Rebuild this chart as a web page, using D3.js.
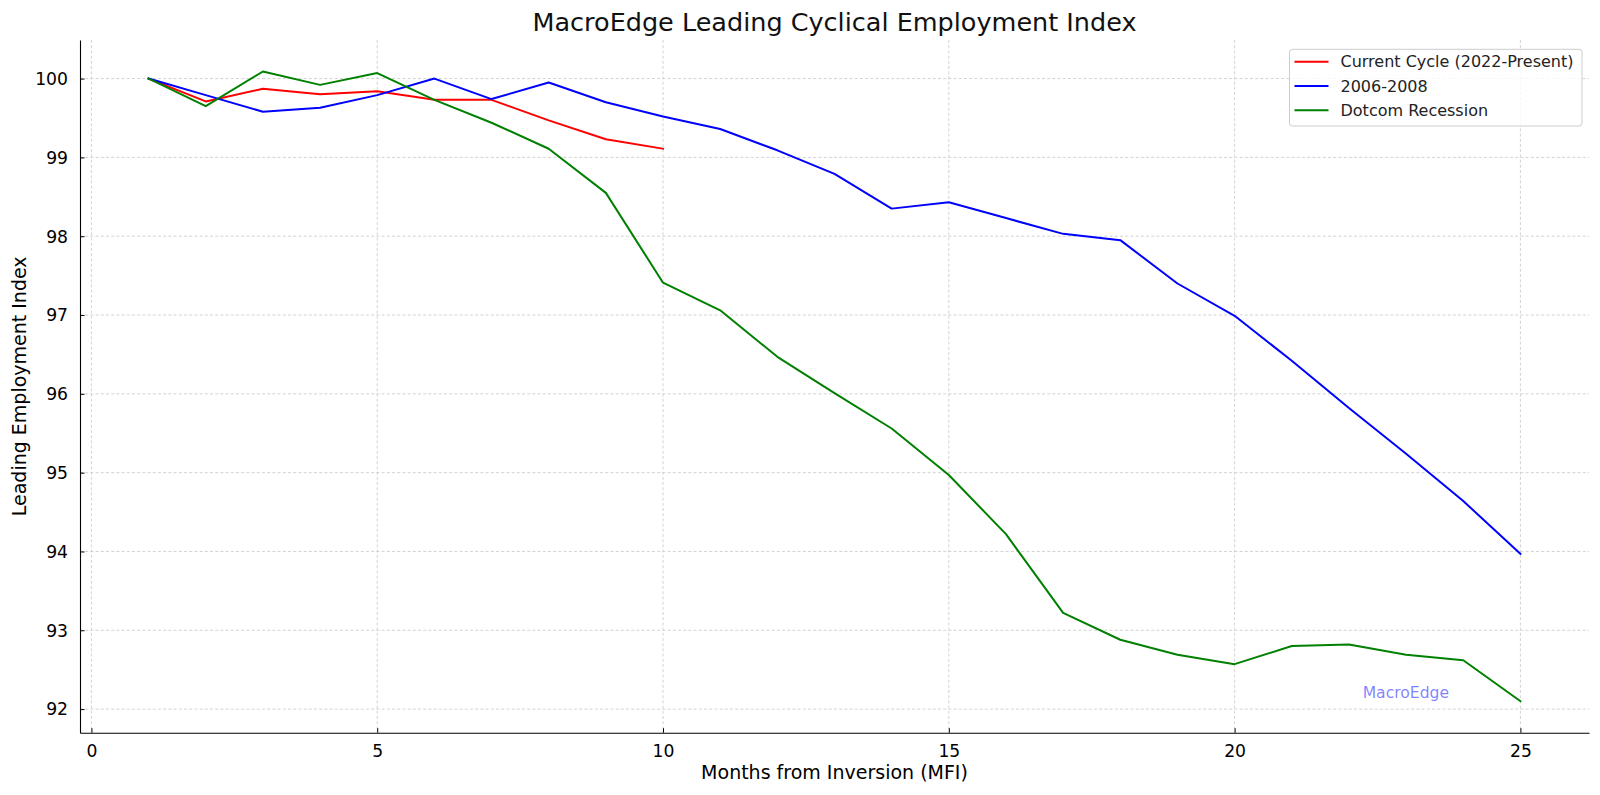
<!DOCTYPE html>
<html>
<head>
<meta charset="utf-8">
<script src="https://cdn.jsdelivr.net/npm/d3@7/dist/d3.min.js"></script>
<style>
  html, body { margin: 0; padding: 0; background: #fff; }
  svg { display: block; font-family: "DejaVu Sans", sans-serif; }
</style>
</head>
<body>
<svg id="chart" width="1600" height="795"></svg>
<script>
// ---- data ----
const months = [1,2,3,4,5,6,7,8,9,10,11,12,13,14,15,16,17,18,19,20,21,22,23,24,25];
const currentCycle = [100.0,99.71,99.87,99.80,99.84,99.73,99.73,99.47,99.23,99.11];
const cycle2006 = [100.0,99.79,99.58,99.63,99.79,100.0,99.74,99.95,99.70,99.52,99.36,99.09,98.79,98.35,98.43,98.23,98.03,97.95,97.40,96.99,96.42,95.82,95.24,94.64,93.97];
const dotcom = [100.0,99.65,100.09,99.92,100.07,99.73,99.44,99.11,98.55,97.41,97.06,96.47,96.01,95.56,94.97,94.22,93.22,92.88,92.69,92.57,92.80,92.82,92.69,92.62,92.10];
const seriesNames = ["Current Cycle (2022-Present)", "2006-2008", "Dotcom Recession"];
const seriesColors = ["#ff0000", "#0000ff", "#008000"];
const xTicks = [0,5,10,15,20,25];
const yTicks = [92,93,94,95,96,97,98,99,100];
const titleText = "MacroEdge Leading Cyclical Employment Index";
const xLabelText = "Months from Inversion (MFI)";
const yLabelText = "Leading Employment Index";
const watermarkText = "MacroEdge";

const series = [currentCycle, cycle2006, dotcom].map((vals, i) => ({
  name: seriesNames[i], color: seriesColors[i],
  points: vals.map((v, j) => ({x: months[j], y: v}))
}));

// ---- layout ----
const svg = d3.select("#chart");
const L = 80, R = 1589, T = 40, B = 732.7;

const xMin = d3.min(months), xMax = d3.max(months);
const xPad = (xMax - xMin) * 0.05;
const allY = [].concat(currentCycle, cycle2006, dotcom);
const yMin = d3.min(allY), yMax = d3.max(allY);
const yPad = (yMax - yMin) * 0.05;

const x = d3.scaleLinear().domain([xMin - xPad, xMax + xPad]).range([L, R]);
const y = d3.scaleLinear().domain([yMin - yPad, yMax + yPad]).range([B, T]);

// grid
const grid = svg.append("g");
grid.selectAll("line.gx").data(xTicks).join("line")
  .attr("x1", d => x(d)).attr("x2", d => x(d)).attr("y1", T).attr("y2", B)
  .attr("stroke", "#c8c8c8").attr("stroke-width", 0.8).attr("stroke-dasharray", "3,2.2");
grid.selectAll("line.gy").data(yTicks).join("line")
  .attr("x1", L).attr("x2", R).attr("y1", d => y(d)).attr("y2", d => y(d))
  .attr("stroke", "#c8c8c8").attr("stroke-width", 0.8).attr("stroke-dasharray", "3,2.2");

// lines
const line = d3.line().x(d => x(d.x)).y(d => y(d.y));
svg.append("g").selectAll("path").data(series).join("path")
  .attr("d", d => line(d.points))
  .attr("fill", "none").attr("stroke", d => d.color)
  .attr("stroke-width", 2).attr("stroke-linejoin", "round").attr("stroke-linecap", "square");

// axes
const xAxis = d3.axisBottom(x).tickValues(xTicks).tickSizeInner(-4.5).tickSizeOuter(0).tickPadding(12);
const yAxis = d3.axisLeft(y).tickValues(yTicks).tickSizeInner(-4.5).tickSizeOuter(0).tickPadding(12);
const gx = svg.append("g").attr("transform", `translate(0,${B})`).call(xAxis);
const gy = svg.append("g").attr("transform", `translate(${L},0)`).call(yAxis);
[gx, gy].forEach(g => {
  g.select(".domain").attr("stroke", "#000").attr("stroke-width", 1.1);
  g.selectAll(".tick line").attr("stroke", "#000").attr("stroke-width", 1);
  g.selectAll(".tick text").attr("fill", "#000").attr("font-size", 17.2)
    .attr("font-family", "DejaVu Sans");
});
gx.selectAll(".tick text").attr("dy", "0.71em");
gy.selectAll(".tick text").attr("dy", "0.34em");

// title & labels
svg.append("text").attr("x", (L + R) / 2).attr("y", 31)
  .attr("text-anchor", "middle").attr("font-size", 25.5).attr("fill", "#111").text(titleText);
svg.append("text").attr("x", (L + R) / 2).attr("y", 779)
  .attr("text-anchor", "middle").attr("font-size", 19).attr("fill", "#000").text(xLabelText);
svg.append("text").attr("transform", `translate(26,${(T + B) / 2}) rotate(-90)`)
  .attr("text-anchor", "middle").attr("font-size", 19).attr("fill", "#000").text(yLabelText);

// watermark
svg.append("text").attr("x", L + 0.85 * (R - L)).attr("y", B - 0.05 * (B - T))
  .attr("font-size", 15.6).attr("fill", "#0000ff").attr("fill-opacity", 0.5).text(watermarkText);

// legend
const fs = 16;
const leg = svg.append("g");
const box = leg.append("rect").attr("fill", "#fff").attr("fill-opacity", 0.8)
  .attr("stroke", "#cccccc").attr("stroke-width", 1).attr("rx", 3).attr("ry", 3);
const rowH = 24.3;
const items = leg.selectAll("g.item").data(series).join("g")
  .attr("transform", (d, i) => `translate(0,${i * rowH})`);
items.append("line").attr("x1", 0).attr("x2", 34).attr("y1", 0).attr("y2", 0)
  .attr("stroke", d => d.color).attr("stroke-width", 2);
const texts = items.append("text").attr("x", 46).attr("y", 0).attr("dy", "0.36em")
  .attr("font-size", fs).attr("fill", "#222").text(d => d.name);
let maxW = 0;
texts.each(function() { maxW = Math.max(maxW, this.getComputedTextLength()); });
const boxW = 5 + 46 + maxW + 8.5;
const boxRight = R - 7;
const boxLeft = boxRight - boxW;
const firstRowY = 61.7;
leg.attr("transform", `translate(${boxLeft + 5},${firstRowY})`);
box.attr("x", -5).attr("y", -12.4).attr("width", boxW).attr("height", 76.7);
</script>
</body>
</html>
